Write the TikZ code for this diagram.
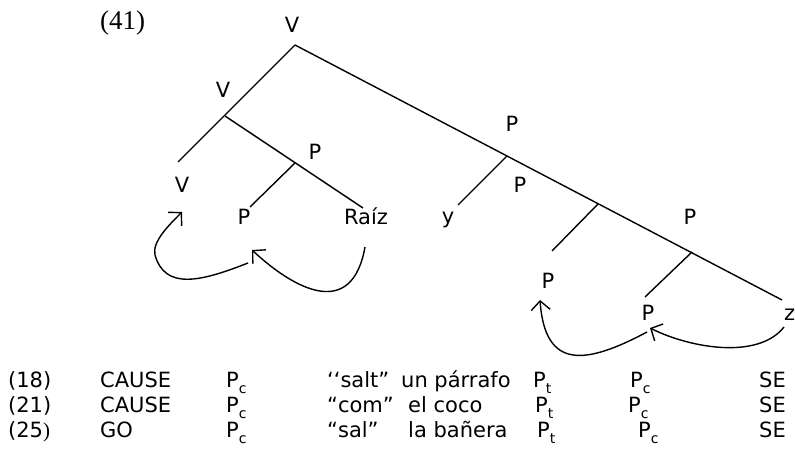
\documentclass[tikz,border=0pt]{standalone}
\usepackage{fontspec}
\setmainfont{DejaVu Sans}
\newfontfamily\exnum{Liberation Serif}
\usetikzlibrary{arrows.meta}
\newcommand\lowc[1]{\raisebox{-0.28em}{\fontsize{14}{14}\selectfont #1}}

\begin{document}
\begin{tikzpicture}[x=1pt,y=-1pt,
  every node/.style={inner sep=0pt,font=\fontsize{21}{25}\selectfont},
  lbl/.style={anchor=base},
  cell/.style={anchor=base west},
  edge/.style={line width=1.4pt},
  move/.style={line width=1.4pt,-{Straight Barb[length=9pt,width=19pt]}}]
\useasboundingbox (0,0) rectangle (796,454);

\node[cell,font=\exnum\fontsize{27}{30}\selectfont] (ex) at (100,30) {(41)};

\coordinate (t) at (295,45);
\coordinate (a) at (225,116);
\coordinate (l) at (178,162);
\coordinate (b) at (295,163);
\coordinate (bl) at (250,207);
\coordinate (br) at (363,208);
\coordinate (c) at (507,156);
\coordinate (cl) at (458,205);
\coordinate (d) at (598,204);
\coordinate (dl) at (552,251);
\coordinate (e) at (692,252);
\coordinate (el) at (645,297);
\coordinate (z) at (782,300);

\node[lbl] (vt) at (292,33) {V};
\node[lbl] (va) at (223,98) {V};
\node[lbl] (vl) at (182,193) {V};
\node[lbl] (pb) at (315,160) {P};
\node[lbl] (pbl) at (244,225) {P};
\node[lbl] (raiz) at (366,225) {Raíz};
\node[lbl] (pc) at (512,132) {P};
\node[lbl] (y) at (448,224) {y};
\node[lbl] (pd) at (520,193) {P};
\node[lbl] (pdl) at (548,289) {P};
\node[lbl] (pe) at (690,225) {P};
\node[lbl] (pel) at (648,321) {P};
\node[cell] (zz) at (784,321) {z};

\draw[edge] (t) -- (l);
\draw[edge] (a) -- (br);
\draw[edge] (b) -- (bl);
\draw[edge] (t) -- (z);
\draw[edge] (c) -- (cl);
\draw[edge] (d) -- (dl);
\draw[edge] (e) -- (el);

\coordinate (a1s) at (365,247);
\coordinate (a1e) at (252,250);
\coordinate (a2s) at (248,263);
\coordinate (a2m) at (155,255);
\coordinate (a2e) at (182,212);
\coordinate (a3s) at (784,327);
\coordinate (a3e) at (650,328);
\coordinate (a4s) at (647,332);
\coordinate (a4e) at (540,300);

\draw[move] (a1s) .. controls (352,320) and (295,290) .. (a1e);
\draw[line width=1.4pt] (a2s) .. controls (200,282) and (165,290) .. (a2m);
\draw[move] (a2m) .. controls (152,242) and (168,226) .. (a2e);
\draw[move] (a3s) .. controls (758,360) and (690,348) .. (a3e);
\draw[move] (a4s) .. controls (585,365) and (545,370) .. (a4e);

\node[cell] (n18) at (8,388) {(18)};
\node[cell] (k18) at (100,388) {CAUSE};
\node[cell] (pa18) at (226,388) {P\lowc{c}};
\node[cell] (w18) at (327,388) {‘‘salt”};
\node[cell] (o18) at (401,388) {un párrafo};
\node[cell] (pt18) at (533,388) {P\lowc{t}};
\node[cell] (pc18) at (630,388) {P\lowc{c}};
\node[cell] (se18) at (759,388) {SE};

\node[cell] (n21) at (8,413) {(21)};
\node[cell] (k21) at (100,413) {CAUSE};
\node[cell] (pa21) at (226,413) {P\lowc{c}};
\node[cell] (w21) at (327,413) {“com”};
\node[cell] (o21) at (408,413) {el coco};
\node[cell] (pt21) at (535,413) {P\lowc{t}};
\node[cell] (pc21) at (628,413) {P\lowc{c}};
\node[cell] (se21) at (759,413) {SE};

\node[cell] (n25) at (8,438) {(25{\exnum)}};
\node[cell] (k25) at (100,438) {GO};
\node[cell] (pa25) at (226,438) {P\lowc{c}};
\node[cell] (w25) at (327,438) {“sal”};
\node[cell] (o25) at (408,438) {la bañera};
\node[cell] (pt25) at (537,438) {P\lowc{t}};
\node[cell] (pc25) at (638,438) {P\lowc{c}};
\node[cell] (se25) at (759,438) {SE};
\end{tikzpicture}
\end{document}
